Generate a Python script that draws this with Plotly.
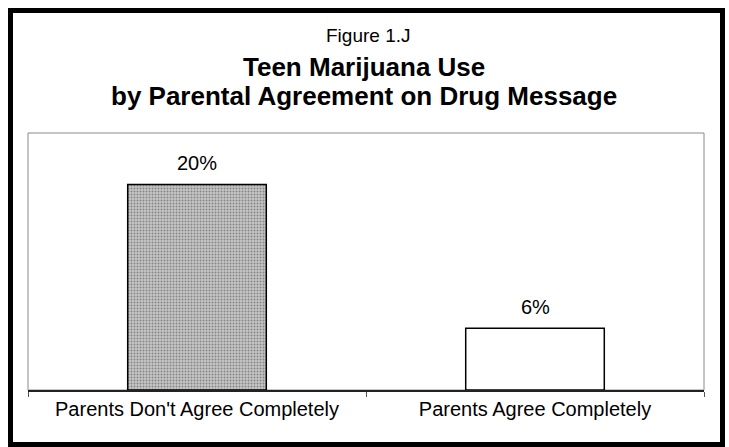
import plotly.graph_objects as go

categories = ["Parents Don't Agree Completely", "Parents Agree Completely"]
values = [20, 6]
value_labels = ["20%", "6%"]
title_lines = ["Figure 1.J", "Teen Marijuana Use", "by Parental Agreement on Drug Message"]

W, H = 729, 447
L, R, T, B = 28, 704, 133, 390  # plot area in pixels

def px(x):
    return (x - L) / (R - L)

def py(y):
    return (B - y) / (B - T)

FONT = "Arial, Liberation Sans, Helvetica, sans-serif"

fig = go.Figure()
fig.add_trace(go.Bar(
    x=categories,
    y=values,
    cliponaxis=False,
    marker=dict(
        color=["#c6c6c6", "white"],
        line=dict(color="black", width=1.5),
        pattern=dict(shape=[".", ""], fgcolor="#3a3a3a", size=3, solidity=0.33),
    ),
    width=0.41,
    hoverinfo="skip",
))

annotations = []
for c, v, lab in zip(categories, values, value_labels):
    annotations.append(dict(text=lab, x=c, y=v, xref="x", yref="y",
                            showarrow=False, xanchor="center", yanchor="bottom", yshift=8,
                            font=dict(family=FONT, size=20, color="black")))

annotations.append(dict(text=title_lines[0], x=px(368), y=py(35), xref="paper", yref="paper",
                        showarrow=False, xanchor="center", yanchor="middle",
                        font=dict(family=FONT, size=19, color="black")))
annotations.append(dict(text="<b>" + title_lines[1] + "</b>", x=px(364), y=py(67), xref="paper", yref="paper",
                        showarrow=False, xanchor="center", yanchor="middle",
                        font=dict(family=FONT, size=26, color="black")))
annotations.append(dict(text="<b>" + title_lines[2] + "</b>", x=px(364), y=py(96), xref="paper", yref="paper",
                        showarrow=False, xanchor="center", yanchor="middle",
                        font=dict(family=FONT, size=26, color="black")))

shapes = [
    dict(type="rect", xref="paper", yref="paper", x0=0, x1=1, y0=0, y1=1,
         line=dict(color="#8a8a8a", width=1), layer="below"),
    dict(type="rect", xref="paper", yref="paper",
         x0=px(10.5), x1=px(722.5), y0=py(444.5), y1=py(10.5),
         line=dict(color="black", width=5)),
]

fig.update_layout(
    width=W, height=H,
    margin=dict(l=L, r=W - R, t=T, b=H - B, pad=0),
    paper_bgcolor="white", plot_bgcolor="white",
    showlegend=False,
    bargap=0.59,
    annotations=annotations,
    shapes=shapes,
    font=dict(family=FONT, color="black"),
    xaxis=dict(
        type="category",
        showline=True, linecolor="#222222", linewidth=1.5,
        ticks="outside", tickson="boundaries", ticklen=5, tickcolor="#555555",
        tickfont=dict(family=FONT, size=20, color="black"),
        showgrid=False, zeroline=False,
    ),
    yaxis=dict(range=[0, 25], visible=False, showgrid=False, zeroline=False),
)

fig.write_html(
    "out.html",
    config={"displayModeBar": False},
    post_script="document.body.style.margin='0';document.body.style.overflow='hidden';",
)
